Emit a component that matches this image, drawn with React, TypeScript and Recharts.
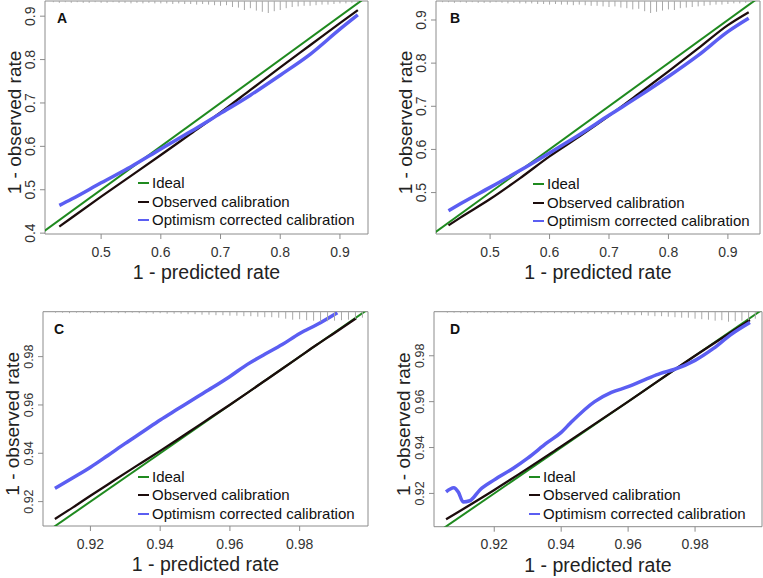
import React from "react";
import {
  ComposedChart,
  Line,
  Scatter,
  XAxis,
  YAxis,
  ReferenceArea,
  Legend,
  Label,
} from "recharts";

const FONT = '"Liberation Sans", Arial, Helvetica, sans-serif';
const GREEN = "#1f8a1f";
const BLACK = "#1c0c0c";
const BLUE = "#5b5ef2";
const AXIS = "#8c8c8c";
const SPIKE = "#a8a8a8";

// ---- panel A ----
const idealA = [0.4, 0.95];
const predObsA = [0.43, 0.45, 0.5, 0.55, 0.6, 0.65, 0.7, 0.75, 0.8, 0.85, 0.9, 0.93];
const obsA = [0.415, 0.435, 0.484, 0.532, 0.58, 0.629, 0.678, 0.73, 0.782, 0.833, 0.884, 0.914];
const predCorrA = [0.43, 0.45, 0.5, 0.55, 0.6, 0.65, 0.7, 0.75, 0.8, 0.85, 0.9, 0.93];
const corrA = [0.464, 0.478, 0.516, 0.553, 0.594, 0.634, 0.676, 0.718, 0.764, 0.812, 0.87, 0.903];
const spikeXA = [0.42, 0.43, 0.44, 0.45, 0.46, 0.47, 0.48, 0.49, 0.5, 0.51, 0.52, 0.53, 0.54, 0.55, 0.56, 0.57, 0.58, 0.59, 0.6, 0.61, 0.62, 0.63, 0.64, 0.65, 0.66, 0.67, 0.68, 0.69, 0.7, 0.71, 0.72, 0.73, 0.74, 0.75, 0.76, 0.77, 0.78, 0.79, 0.8, 0.81, 0.82, 0.83, 0.84, 0.85, 0.86, 0.87, 0.88, 0.89, 0.9, 0.91, 0.92, 0.93];
const spikeHA = [0.1, 0.15, 0.1, 0.15, 0.1, 0.15, 0.15, 0.1, 0.15, 0.15, 0.1, 0.15, 0.15, 0.2, 0.15, 0.2, 0.15, 0.2, 0.2, 0.2, 0.25, 0.2, 0.25, 0.25, 0.3, 0.25, 0.3, 0.35, 0.4, 0.35, 0.5, 0.55, 0.75, 0.6, 0.8, 0.9, 1, 0.85, 0.75, 0.6, 0.5, 0.45, 0.4, 0.4, 0.35, 0.3, 0.3, 0.25, 0.2, 0.2, 0.15, 0.1];

// ---- panel B ----
const idealB = [0.4, 0.96];
const predObsB = [0.43, 0.45, 0.5, 0.55, 0.6, 0.65, 0.7, 0.75, 0.8, 0.85, 0.9, 0.935];
const obsB = [0.424, 0.442, 0.485, 0.533, 0.584, 0.63, 0.678, 0.729, 0.781, 0.834, 0.888, 0.918];
const predCorrB = [0.43, 0.45, 0.5, 0.55, 0.6, 0.65, 0.7, 0.75, 0.8, 0.85, 0.9, 0.935];
const corrB = [0.458, 0.474, 0.512, 0.551, 0.592, 0.634, 0.679, 0.723, 0.769, 0.818, 0.873, 0.904];
const spikeXB = [0.42, 0.43, 0.44, 0.45, 0.46, 0.47, 0.48, 0.49, 0.5, 0.51, 0.52, 0.53, 0.54, 0.55, 0.56, 0.57, 0.58, 0.59, 0.6, 0.61, 0.62, 0.63, 0.64, 0.65, 0.66, 0.67, 0.68, 0.69, 0.7, 0.71, 0.72, 0.73, 0.74, 0.75, 0.76, 0.77, 0.78, 0.79, 0.8, 0.81, 0.82, 0.83, 0.84, 0.85, 0.86, 0.87, 0.88, 0.89, 0.9, 0.91, 0.92, 0.93, 0.94];
const spikeHB = [0.1, 0.1, 0.15, 0.1, 0.15, 0.1, 0.15, 0.15, 0.15, 0.1, 0.15, 0.2, 0.15, 0.2, 0.2, 0.2, 0.25, 0.25, 0.3, 0.25, 0.3, 0.3, 0.35, 0.3, 0.35, 0.4, 0.4, 0.45, 0.5, 0.45, 0.55, 0.6, 0.7, 0.65, 0.85, 1, 0.9, 0.8, 0.7, 0.75, 0.6, 0.55, 0.5, 0.45, 0.4, 0.35, 0.3, 0.3, 0.25, 0.2, 0.2, 0.15, 0.1];

// ---- panel C ----
const idealC = [0.9, 1.0];
const predObsC = [0.9098, 0.915, 0.92, 0.925, 0.93, 0.935, 0.94, 0.945, 0.95, 0.955, 0.96, 0.965, 0.97, 0.975, 0.98, 0.985, 0.99, 0.9962];
const obsC = [0.9128, 0.9176, 0.9224, 0.9271, 0.9318, 0.9364, 0.941, 0.9457, 0.9505, 0.9553, 0.9601, 0.965, 0.97, 0.975, 0.98, 0.985, 0.9898, 0.9959];
const predCorrC = [0.9098, 0.915, 0.92, 0.925, 0.93, 0.935, 0.94, 0.945, 0.95, 0.955, 0.96, 0.965, 0.97, 0.975, 0.98, 0.985, 0.9908];
const corrC = [0.9255, 0.9299, 0.9342, 0.9391, 0.9441, 0.9489, 0.9538, 0.9583, 0.9628, 0.9672, 0.9718, 0.9768, 0.981, 0.985, 0.9896, 0.9933, 0.9982];
const spikeXC = [0.91, 0.912, 0.914, 0.916, 0.918, 0.92, 0.922, 0.924, 0.926, 0.928, 0.93, 0.932, 0.934, 0.936, 0.938, 0.94, 0.942, 0.944, 0.946, 0.948, 0.95, 0.952, 0.954, 0.956, 0.958, 0.96, 0.962, 0.964, 0.966, 0.968, 0.97, 0.972, 0.974, 0.976, 0.978, 0.98, 0.982, 0.984, 0.986, 0.988, 0.99, 0.992, 0.994, 0.996, 0.998];
const spikeHC = [0.1, 0.1, 0.15, 0.1, 0.1, 0.15, 0.1, 0.15, 0.1, 0.15, 0.15, 0.1, 0.15, 0.15, 0.2, 0.15, 0.2, 0.2, 0.2, 0.25, 0.25, 0.3, 0.3, 0.35, 0.35, 0.4, 0.4, 0.45, 0.45, 0.5, 0.55, 0.55, 0.6, 0.7, 0.8, 0.75, 0.85, 0.9, 1, 0.95, 0.9, 0.85, 0.8, 0.7, 0.6];

// ---- panel D ----
const idealD = [0.9, 1.0];
const predObsD = [0.9056, 0.92, 0.94, 0.96, 0.98, 0.9964];
const obsD = [0.9087, 0.9215, 0.9405, 0.96, 0.98, 0.9956];
const predCorrD = [0.9056, 0.9079, 0.9093, 0.9107, 0.9127, 0.9157, 0.92, 0.9257, 0.93, 0.9357, 0.94, 0.9427, 0.95, 0.955, 0.96, 0.9657, 0.9697, 0.9737, 0.98, 0.9855, 0.9905, 0.9964];
const corrD = [0.9207, 0.9225, 0.9205, 0.9163, 0.9168, 0.9215, 0.9259, 0.931, 0.9354, 0.942, 0.9466, 0.9506, 0.96, 0.964, 0.9665, 0.97, 0.9723, 0.974, 0.978, 0.9832, 0.989, 0.9945];
const spikeXD = [0.906, 0.908, 0.91, 0.912, 0.914, 0.916, 0.918, 0.92, 0.922, 0.924, 0.926, 0.928, 0.93, 0.932, 0.934, 0.936, 0.938, 0.94, 0.942, 0.944, 0.946, 0.948, 0.95, 0.952, 0.954, 0.956, 0.958, 0.96, 0.962, 0.964, 0.966, 0.968, 0.97, 0.972, 0.974, 0.976, 0.978, 0.98, 0.982, 0.984, 0.986, 0.988, 0.99, 0.992, 0.994, 0.996, 0.998];
const spikeHD = [0.1, 0.1, 0.1, 0.15, 0.1, 0.1, 0.15, 0.1, 0.1, 0.15, 0.1, 0.15, 0.1, 0.15, 0.15, 0.1, 0.15, 0.15, 0.15, 0.2, 0.15, 0.2, 0.2, 0.2, 0.25, 0.25, 0.3, 0.3, 0.35, 0.35, 0.4, 0.45, 0.45, 0.5, 0.55, 0.6, 0.6, 0.7, 0.75, 0.8, 0.9, 0.85, 1, 0.95, 0.9, 0.85, 0.7];

const ticksAB = [0.4, 0.5, 0.6, 0.7, 0.8, 0.9];
const ticksCD = [0.92, 0.94, 0.96, 0.98];

const zip = (xs: number[], ys: number[]) => xs.map((x, i) => ({ x, y: ys[i] }));

type PanelProps = {
  tag: string;
  left: number;
  top: number;
  width: number;
  height: number;
  mTop: number;
  mRight: number;
  yAxisWidth: number;
  xAxisHeight: number;
  xDomain: [number, number];
  yDomain: [number, number];
  xTicks: number[];
  yTicks: number[];
  digits: number;
  yTickFont: number;
  ideal: number[];
  predObs: number[];
  obs: number[];
  predCorr: number[];
  corr: number[];
  spikeX: number[];
  spikeH: number[];
  spikeMax: number;
  tagDx: number;
  legendLeft: number;
  legendTop: number;
};

function Panel(p: PanelProps) {
  const plotLeft = p.yAxisWidth;
  const plotTop = p.mTop;
  const plotBottom = p.height - p.xAxisHeight;
  const plotRight = p.width - p.mRight;
  const idealRows = zip(p.ideal, p.ideal);
  const obsRows = zip(p.predObs, p.obs);
  const corrRows = zip(p.predCorr, p.corr);
  const spikeRows = p.spikeX.map((x, i) => ({ x, y: p.yDomain[1], h: p.spikeH[i] }));

  const renderLegend = (props: any) => (
    <div style={{ fontFamily: FONT, fontSize: 15, lineHeight: "18.5px", color: "#111" }}>
      {(props.payload || [])
        .filter((e: any) => e.type !== "none")
        .map((e: any) => (
          <div key={e.value} style={{ display: "flex", alignItems: "center", whiteSpace: "nowrap" }}>
            <span style={{ display: "inline-block", width: 11, height: 2.2, background: e.color, marginRight: 3 }} />
            <span>{e.value}</span>
          </div>
        ))}
    </div>
  );

  return (
    <div style={{ position: "absolute", left: p.left, top: p.top }}>
      <ComposedChart
        width={p.width}
        height={p.height}
        margin={{ top: p.mTop, right: p.mRight, bottom: 0, left: 0 }}
        style={{ fontFamily: FONT }}
      >
        <XAxis
          type="number"
          dataKey="x"
          domain={p.xDomain}
          allowDataOverflow
          ticks={p.xTicks}
          interval={0}
          axisLine={false}
          tickLine={{ stroke: AXIS }}
          tickSize={5}
          tickMargin={2}
          height={p.xAxisHeight}
          tick={(t: any) => (
            <text x={t.x} y={t.y + 15.5} textAnchor="middle" fontSize={14} fill="#333" fontFamily={FONT}>
              {Number(t.payload.value).toFixed(p.digits)}
            </text>
          )}
        >
          <Label
            content={() => (
              <text
                x={(plotLeft + plotRight) / 2}
                y={plotBottom + 45}
                textAnchor="middle"
                fontSize={19.5}
                fill="#222"
                fontFamily={FONT}
              >
                1 - predicted rate
              </text>
            )}
          />
        </XAxis>
        <YAxis
          type="number"
          dataKey="y"
          domain={p.yDomain}
          allowDataOverflow
          ticks={p.yTicks}
          interval={0}
          axisLine={false}
          tickLine={{ stroke: AXIS }}
          tickSize={5}
          tickMargin={2}
          width={p.yAxisWidth}
          tick={(t: any) => (
            <text
              transform={`translate(${t.x - 3.5},${t.y}) rotate(-90)`}
              textAnchor="middle"
              fontSize={p.yTickFont}
              fill="#333"
              fontFamily={FONT}
            >
              {Number(t.payload.value).toFixed(p.digits)}
            </text>
          )}
        >
          <Label
            content={() => (
              <text
                transform={`translate(${plotLeft - 24.5},${(plotTop + plotBottom) / 2 + 5}) rotate(-90)`}
                textAnchor="middle"
                fontSize={19}
                fill="#222"
                fontFamily={FONT}
              >
                1 - observed rate
              </text>
            )}
          />
        </YAxis>
        <ReferenceArea
          x1={p.xDomain[0]}
          x2={p.xDomain[1]}
          y1={p.yDomain[0]}
          y2={p.yDomain[1]}
          fill="none"
          stroke={AXIS}
          strokeWidth={1}
          label={() => (
            <text x={plotLeft + p.tagDx} y={plotTop + 22} fontSize={14} fontWeight="bold" fill="#111" fontFamily={FONT}>
              {p.tag}
            </text>
          )}
        />
        <Scatter
          data={spikeRows}
          dataKey="y"
          legendType="none"
          isAnimationActive={false}
          shape={(s: any) => (
            <line x1={s.cx} y1={s.cy} x2={s.cx} y2={s.cy + s.payload.h * p.spikeMax} stroke={SPIKE} strokeWidth={1} />
          )}
        />
        <Line
          data={idealRows}
          dataKey="y"
          name="Ideal"
          type="linear"
          stroke={GREEN}
          strokeWidth={2}
          dot={false}
          activeDot={false}
          isAnimationActive={false}
        />
        <Line
          data={obsRows}
          dataKey="y"
          name="Observed calibration"
          type="monotone"
          stroke={BLACK}
          strokeWidth={2.3}
          dot={false}
          activeDot={false}
          isAnimationActive={false}
        />
        <Line
          data={corrRows}
          dataKey="y"
          name="Optimism corrected calibration"
          type="monotone"
          stroke={BLUE}
          strokeWidth={3.5}
          dot={false}
          activeDot={false}
          isAnimationActive={false}
        />
        <Legend
          layout="vertical"
          align="center"
          verticalAlign="middle"
          wrapperStyle={{ left: p.legendLeft, top: p.legendTop, width: "auto", height: "auto" }}
          content={renderLegend}
        />
      </ComposedChart>
    </div>
  );
}

export default function App() {
  return (
    <div style={{ position: "absolute", left: 0, top: 0, width: 763, height: 578, background: "#fff" }}>
      <Panel
        tag="A" left={0} top={0} width={381} height={289} mTop={1} mRight={13}
        yAxisWidth={45} xAxisHeight={55}
        xDomain={[0.406, 0.947]} yDomain={[0.398, 0.935]}
        xTicks={ticksAB.slice(1)} yTicks={ticksAB} digits={1} yTickFont={14}
        ideal={idealA} predObs={predObsA} obs={obsA} predCorr={predCorrA} corr={corrA}
        spikeX={spikeXA} spikeH={spikeHA} spikeMax={12} tagDx={12}
        legendLeft={138} legendTop={174}
      />
      <Panel
        tag="B" left={381} top={0} width={382} height={289} mTop={1} mRight={3}
        yAxisWidth={55} xAxisHeight={55}
        xDomain={[0.409, 0.954]} yDomain={[0.404, 0.944]}
        xTicks={ticksAB.slice(1)} yTicks={ticksAB.slice(1)} digits={1} yTickFont={14}
        ideal={idealB} predObs={predObsB} obs={obsB} predCorr={predCorrB} corr={corrB}
        spikeX={spikeXB} spikeH={spikeHB} spikeMax={12} tagDx={14}
        legendLeft={152} legendTop={175}
      />
      <Panel
        tag="C" left={0} top={289} width={381} height={289} mTop={22.7} mRight={13}
        yAxisWidth={43} xAxisHeight={52}
        xDomain={[0.9064, 0.9996]} yDomain={[0.9099, 0.9986]}
        xTicks={ticksCD} yTicks={ticksCD} digits={2} yTickFont={12.5}
        ideal={idealC} predObs={predObsC} obs={obsC} predCorr={predCorrC} corr={corrC}
        spikeX={spikeXC} spikeH={spikeHC} spikeMax={10} tagDx={11}
        legendLeft={138} legendTop={178.5}
      />
      <Panel
        tag="D" left={381} top={289} width={382} height={289} mTop={22.7} mRight={1}
        yAxisWidth={53} xAxisHeight={51.3}
        xDomain={[0.902, 1.0]} yDomain={[0.9055, 0.9992]}
        xTicks={ticksCD} yTicks={ticksCD} digits={2} yTickFont={12.5}
        ideal={idealD} predObs={predObsD} obs={obsD} predCorr={predCorrD} corr={corrD}
        spikeX={spikeXD} spikeH={spikeHD} spikeMax={10} tagDx={16}
        legendLeft={148} legendTop={178.5}
      />
    </div>
  );
}
